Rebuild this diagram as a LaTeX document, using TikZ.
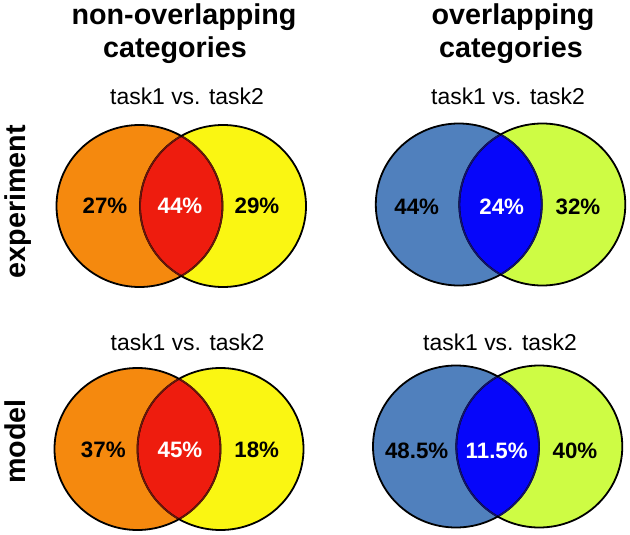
\documentclass[tikz,border=0pt]{standalone}
\usepackage{fontspec}
\setmainfont{Liberation Sans}
\definecolor{vorange}{RGB}{245,137,14}
\definecolor{vyellow}{RGB}{250,246,18}
\definecolor{vred}{RGB}{238,28,14}
\definecolor{vsteel}{RGB}{80,128,189}
\definecolor{vblue}{RGB}{6,6,250}
\definecolor{vlime}{RGB}{206,252,68}
\definecolor{arcred}{RGB}{105,22,12}
\definecolor{arcblue}{RGB}{18,18,110}
\tikzset{
  coltitle/.style={font=\bfseries\fontsize{28.7}{33}\selectfont, anchor=base},
  tasklab/.style={font=\fontsize{22.9}{26}\selectfont},
  pct/.style={font=\bfseries\fontsize{22.3}{26}\selectfont},
  pctw/.style={pct, text=white},
  rowlab/.style={font=\bfseries\fontsize{28.7}{33}\selectfont, rotate=90, anchor=base},
  rim/.style={line width=1.8pt},
  inrim/.style={line width=1.5pt},
}
\newcommand\vennpair[7]{%
  \fill[#4] (#1,#3) ellipse [x radius=83pt, y radius=81pt];
  \fill[#5] (#2,#3) ellipse [x radius=83pt, y radius=81pt];
  \begin{scope}
    \clip (#1,#3) ellipse [x radius=83pt, y radius=81pt];
    \fill[#6] (#2,#3) ellipse [x radius=83pt, y radius=81pt];
  \end{scope}
  \draw[rim] (#1,#3) ellipse [x radius=83pt, y radius=81pt];
  \draw[rim] (#2,#3) ellipse [x radius=83pt, y radius=81pt];
  \begin{scope}
    \clip (#1,#3) ellipse [x radius=82pt, y radius=80pt];
    \draw[inrim,#7] (#2,#3) ellipse [x radius=83pt, y radius=81pt];
  \end{scope}
  \begin{scope}
    \clip (#2,#3) ellipse [x radius=82pt, y radius=80pt];
    \draw[inrim,#7] (#1,#3) ellipse [x radius=83pt, y radius=81pt];
  \end{scope}
}
\begin{document}
\begin{tikzpicture}[x=1pt,y=-1pt]
\fill[white] (0,0) rectangle (630,535);
\useasboundingbox (0,0) rectangle (630,535);

% column titles
\node[coltitle] (ct1a) at (184,25) {non-overlapping};
\node[coltitle] (ct1b) at (175,58) {categories};
\node[coltitle] (ct2a) at (513,25) {overlapping};
\node[coltitle] (ct2b) at (511,58) {categories};

% row titles
\node[rowlab] (rl1) at (25,201.5) {experiment};
\node[rowlab] (rl2) at (25,441.5) {model};

% task labels
\node[tasklab] (tk1) at (187,96) {task1 vs. task2};
\node[tasklab] (tk2) at (508,96) {task1 vs. task2};
\node[tasklab] (tk3) at (187.5,342) {task1 vs. task2};
\node[tasklab] (tk4) at (500,342) {task1 vs. task2};

% venn diagrams
\vennpair{139.5}{223}{206}{vorange}{vyellow}{vred}{arcred}
\vennpair{458.8}{542.3}{204.5}{vsteel}{vlime}{vblue}{arcblue}
\vennpair{137.5}{220.5}{449}{vorange}{vyellow}{vred}{arcred}
\vennpair{456}{539.3}{446.5}{vsteel}{vlime}{vblue}{arcblue}

% percentages
\node[pct]  (a1) at (105,206) {27\%};
\node[pctw] (a2) at (180,206) {44\%};
\node[pct]  (a3) at (257,206) {29\%};

\node[pct]  (b1) at (416.7,206.5) {44\%};
\node[pctw] (b2) at (501.7,206.5) {24\%};
\node[pct]  (b3) at (578,206.5) {32\%};

\node[pct]  (c1) at (103.3,450) {37\%};
\node[pctw] (c2) at (180,450) {45\%};
\node[pct]  (c3) at (256.7,450) {18\%};

\node[pct]  (d1) at (416.7,451) {48.5\%};
\node[pctw] (d2) at (496.7,451) {11.5\%};
\node[pct]  (d3) at (575,451) {40\%};
\end{tikzpicture}
\end{document}
